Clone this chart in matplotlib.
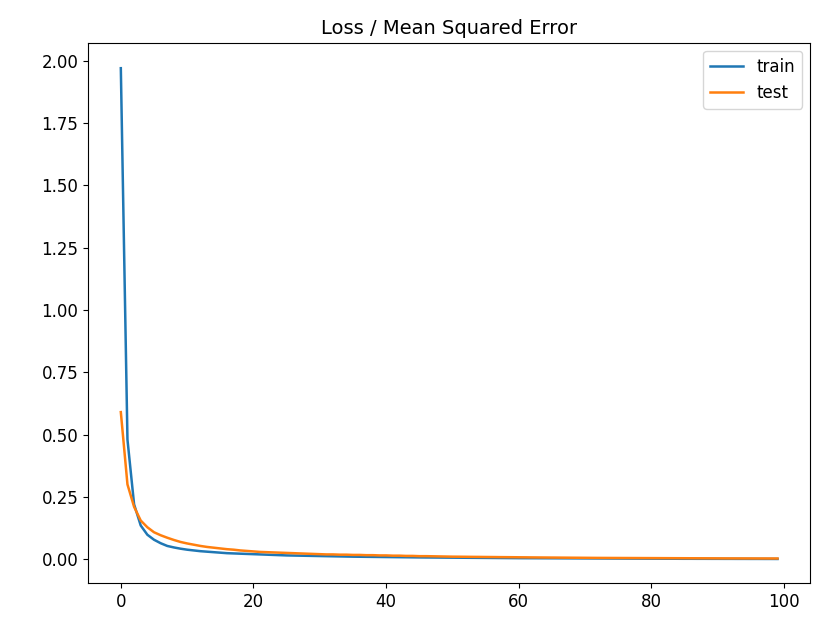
import matplotlib
matplotlib.use("Agg")
import matplotlib.pyplot as plt

train = [1.97, 0.48, 0.22, 0.135, 0.098, 0.078, 0.064, 0.053, 0.047, 0.042,
         0.038, 0.035, 0.032, 0.030, 0.028, 0.026, 0.024, 0.023, 0.022, 0.021,
         0.020, 0.019, 0.018, 0.017, 0.016, 0.015, 0.0145, 0.014, 0.0135, 0.013,
         0.0125, 0.012, 0.0115, 0.011, 0.0105, 0.010, 0.0097, 0.0094, 0.0091, 0.0088,
         0.0085, 0.0082, 0.0079, 0.0076, 0.0073, 0.0070, 0.0068, 0.0066, 0.0064, 0.0062,
         0.0060, 0.0058, 0.0056, 0.0054, 0.0052, 0.0050, 0.0048, 0.0046, 0.0044, 0.0042,
         0.0040, 0.0039, 0.0038, 0.0037, 0.0036, 0.0035, 0.0034, 0.0033, 0.0032, 0.0031,
         0.0030, 0.0029, 0.0028, 0.0027, 0.0026, 0.0025, 0.0024, 0.0023, 0.0022, 0.0021,
         0.0020, 0.0019, 0.0018, 0.0017, 0.0016, 0.0015, 0.0015, 0.0014, 0.0014, 0.0013,
         0.0013, 0.0012, 0.0012, 0.0011, 0.0011, 0.0010, 0.0010, 0.0009, 0.0009, 0.0008]
test = [0.59, 0.30, 0.21, 0.155, 0.128, 0.108, 0.096, 0.086, 0.077, 0.069,
        0.063, 0.058, 0.053, 0.049, 0.046, 0.043, 0.040, 0.038, 0.035, 0.033,
        0.031, 0.029, 0.028, 0.027, 0.026, 0.025, 0.024, 0.023, 0.022, 0.021,
        0.020, 0.019, 0.019, 0.018, 0.018, 0.017, 0.017, 0.016, 0.016, 0.015,
        0.015, 0.014, 0.014, 0.013, 0.013, 0.012, 0.012, 0.0115, 0.011, 0.0105,
        0.010, 0.0098, 0.0095, 0.0092, 0.009, 0.0087, 0.0085, 0.0082, 0.008, 0.0078,
        0.0075, 0.0073, 0.007, 0.0068, 0.0066, 0.0064, 0.0062, 0.006, 0.0058, 0.0056,
        0.0054, 0.0052, 0.005, 0.0049, 0.0048, 0.0047, 0.0046, 0.0045, 0.0044, 0.0043,
        0.0042, 0.0041, 0.004, 0.0039, 0.0038, 0.0037, 0.0036, 0.0035, 0.0034, 0.0033,
        0.0032, 0.0031, 0.003, 0.003, 0.0029, 0.0029, 0.0028, 0.0028, 0.0027, 0.0027]

fig = plt.figure(figsize=(8.38, 6.29), dpi=100)
ax = fig.add_axes([0.105, 0.073, 0.862, 0.859])
ax.plot(train, label="train", color="#1f77b4", linewidth=1.8)
ax.plot(test, label="test", color="#ff7f0e", linewidth=1.8)
ax.set_title("Loss / Mean Squared Error", fontsize=14)
ax.set_ylim(-0.096, 2.072)
ax.set_xlim(-4.95, 103.95)
ax.set_yticks([0, 0.25, 0.5, 0.75, 1.0, 1.25, 1.5, 1.75, 2.0])
ax.tick_params(labelsize=12)
ax.legend(fontsize=12)
fig.savefig("out.png", dpi=100)
